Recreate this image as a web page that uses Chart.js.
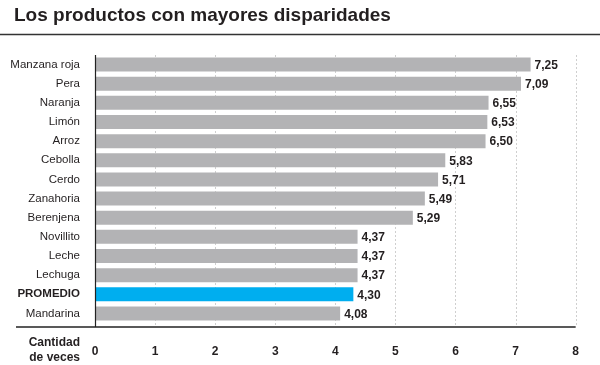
<!DOCTYPE html>
<html>
<head>
<meta charset="utf-8">
<script src="https://cdn.jsdelivr.net/npm/chart.js@4/dist/chart.umd.min.js"></script>
<style>
  html, body { margin: 0; padding: 0; background: #fff; }
  #wrap { position: relative; width: 600px; height: 365px; }
</style>
</head>
<body>
<div id="wrap"><canvas id="chart" width="600" height="365"></canvas></div>
<script>
// Datos del gráfico
const productos = ['Manzana roja', 'Pera', 'Naranja', 'Limón', 'Arroz', 'Cebolla', 'Cerdo', 'Zanahoria',
    'Berenjena', 'Novillito', 'Leche', 'Lechuga', 'PROMEDIO', 'Mandarina'];
const veces = [7.25, 7.09, 6.55, 6.53, 6.50, 5.83, 5.71, 5.49, 5.29, 4.37, 4.37, 4.37, 4.30, 4.08];
const ejeTicks = [0, 1, 2, 3, 4, 5, 6, 7, 8];
const titulo = 'Los productos con mayores disparidades';

const FONT = '"Liberation Sans", Arial, sans-serif';
const GRIS = '#b3b3b5';
const AZUL = '#00aeef';

const colores = productos.map(p => p === 'PROMEDIO' ? AZUL : GRIS);

// Plugin para título, líneas, grilla y etiquetas de valor
const decoPlugin = {
    id: 'deco',
    beforeDatasetsDraw(chart) {
        const c = chart.ctx;
        const x = chart.scales.x;
        const top = chart.chartArea.top;
        const axisY = 327;
        c.save();
        // grilla punteada
        c.strokeStyle = '#cfcfcf';
        c.lineWidth = 1;
        c.setLineDash([2, 2]);
        ejeTicks.slice(1).forEach(v => {
            const px = Math.round(x.getPixelForValue(v)) + 0.5;
            c.beginPath();
            c.moveTo(px, top);
            c.lineTo(px, axisY);
            c.stroke();
        });
        c.restore();
    },
    afterDraw(chart) {
        const c = chart.ctx;
        const x = chart.scales.x;
        const top = chart.chartArea.top;
        const axisY = 327;
        c.save();
        // título
        c.fillStyle = '#231f20';
        c.font = 'bold 19px ' + FONT;
        c.textBaseline = 'alphabetic';
        c.textAlign = 'left';
        c.fillText(titulo, 14, 21);
        // regla bajo el título
        c.strokeStyle = '#333';
        c.lineWidth = 1.5;
        c.beginPath();
        c.moveTo(0, 34.5);
        c.lineTo(600, 34.5);
        c.stroke();
        // eje vertical
        const x0 = Math.round(x.getPixelForValue(0)) + 0.5;
        c.strokeStyle = '#222';
        c.lineWidth = 1.2;
        c.beginPath();
        c.moveTo(x0, top);
        c.lineTo(x0, axisY);
        c.stroke();
        // eje horizontal
        c.lineWidth = 1.5;
        c.beginPath();
        c.moveTo(16, axisY);
        c.lineTo(x.getPixelForValue(8), axisY);
        c.stroke();
        // valores
        c.font = 'bold 12px ' + FONT;
        c.fillStyle = '#231f20';
        c.textBaseline = 'middle';
        const meta = chart.getDatasetMeta(0);
        meta.data.forEach((bar, i) => {
            c.fillText(veces[i].toFixed(2).replace('.', ','), bar.x + 4, bar.y + 1);
        });
        // etiqueta del eje
        c.textAlign = 'right';
        c.font = 'bold 12px ' + FONT;
        c.fillText('Cantidad', 80, 343);
        c.fillText('de veces', 80, 358);
        c.restore();
    }
};

const ctx = document.getElementById('chart').getContext('2d');
const chart = new Chart(ctx, {
    type: 'bar',
    data: {
        labels: productos,
        datasets: [{
            data: veces,
            backgroundColor: colores,
            borderWidth: 0,
            categoryPercentage: 1,
            barPercentage: 0.73
        }]
    },
    options: {
        indexAxis: 'y',
        responsive: false,
        animation: false,
        layout: { padding: { top: 55, right: 24, left: 0, bottom: 0 } },
        plugins: { legend: { display: false }, tooltip: { enabled: false } },
        scales: {
            x: {
                min: 0,
                max: 8,
                afterBuildTicks(scale) {
                    scale.ticks = ejeTicks.map(v => ({ value: v }));
                },
                afterFit(scale) { scale.height = 42; },
                grid: { display: false, drawTicks: false },
                border: { display: false },
                ticks: {
                    padding: 21,
                    color: '#231f20',
                    font: { family: FONT, size: 12, weight: 'bold' }
                }
            },
            y: {
                afterFit(scale) { scale.width = 95; },
                grid: { display: false, drawTicks: false },
                border: { display: false },
                ticks: {
                    padding: 15,
                    color: '#231f20',
                    font(c) {
                        const bold = productos[c.index] === 'PROMEDIO';
                        return { family: FONT, size: 11.5, weight: bold ? 'bold' : 'normal' };
                    }
                }
            }
        }
    },
    plugins: [decoPlugin]
});
</script>
</body>
</html>
